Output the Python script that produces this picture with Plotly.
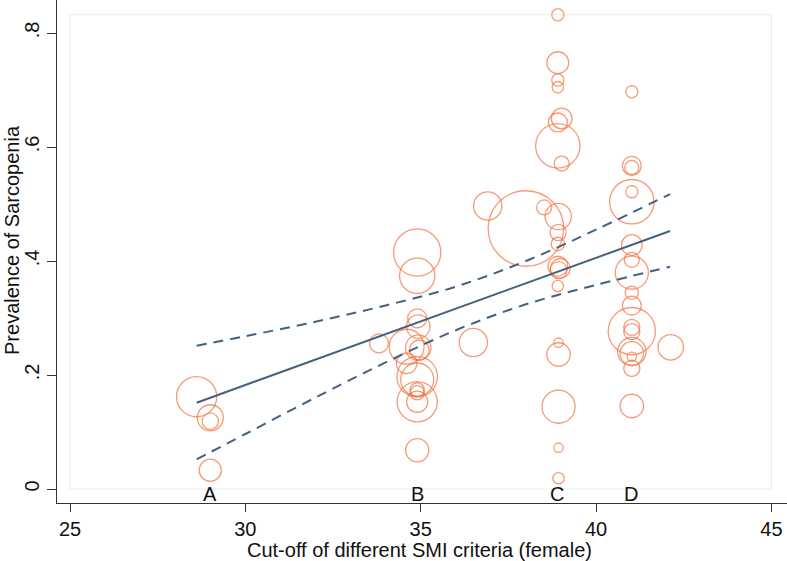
import plotly.graph_objects as go

# ---- data ----
group_labels = ["A", "B", "C", "D"]
group_x = [29.0, 34.9, 38.9, 41.0]

study_x = [28.61, 29.0, 29.0, 29.0,
           34.9, 34.9, 34.9, 34.93, 33.81, 34.6, 34.93, 34.96, 34.6, 36.5,
           34.9, 34.9, 34.9, 34.9, 34.9, 34.9, 34.9,
           38.0, 36.91, 38.52, 38.92, 38.92, 38.91, 38.91, 38.98, 38.93, 38.91,
           38.91, 38.91, 38.91, 38.91, 39.02, 38.91, 38.91, 39.02,
           38.93, 38.93, 38.93, 38.93, 38.93,
           41.02, 41.02, 41.02, 41.02, 41.02, 41.02, 41.02, 41.02, 41.02, 41.02,
           41.02, 41.02, 41.02, 41.02, 41.02, 41.02, 41.02, 41.02, 42.13]
prevalence = [0.162, 0.125, 0.119, 0.033,
              0.415, 0.374, 0.2995, 0.285, 0.2556, 0.2497, 0.248, 0.244, 0.2205, 0.257,
              0.197, 0.192, 0.174, 0.169, 0.153, 0.153, 0.068,
              0.457, 0.4965, 0.494, 0.478, 0.45, 0.43, 0.391, 0.387, 0.384, 0.356,
              0.832, 0.748, 0.7175, 0.705, 0.650, 0.643, 0.602, 0.571,
              0.2567, 0.236, 0.1444, 0.0725, 0.0188,
              0.697, 0.567, 0.564, 0.5216, 0.504, 0.428, 0.402, 0.3795, 0.3444, 0.3216,
              0.277, 0.2836, 0.276, 0.241, 0.238, 0.232, 0.2117, 0.1456, 0.2486]
weights = [2016, 846, 336, 608,
           2789, 1563, 449, 689, 449, 1513, 810, 490, 533, 1000,
           2045, 1369, 250, 250, 2016, 563, 672,
           7129, 1000, 281, 865, 325, 221, 490, 490, 360, 160,
           185, 593, 185, 160, 533, 449, 2465, 281,
           109, 689, 1369, 109, 160,
           185, 449, 250, 185, 2465, 533, 281, 1369, 221, 449,
           2789, 325, 325, 1000, 689, 109, 325, 689, 810]

fit_x = [28.61, 42.11]
fit_y = [0.1514, 0.4526]

ci_x = [28.61, 30.0, 32.0, 34.0, 36.0, 38.0, 40.0, 42.11]
ci_upper = [0.2514, 0.268, 0.2935, 0.322, 0.355, 0.400, 0.455, 0.5175]
ci_lower = [0.052, 0.0965, 0.1605, 0.222, 0.2785, 0.324, 0.358, 0.390]

x_ticks = [25, 30, 35, 40, 45]
y_ticks = [0, 0.2, 0.4, 0.6, 0.8]
y_ticktext = ["0", ".2", ".4", ".6", ".8"]

x_title = "Cut-off of different SMI criteria (female)"
y_title = "Prevalence of Sarcopenia"

# ---- styles ----
ORANGE = "#F2703F"
NAVY = "#44627F"
FONT = "Liberation Sans, Arial, sans-serif"
FS = 20
TXT = "#111"

fig = go.Figure()

fig.add_trace(go.Scatter(
    x=study_x, y=prevalence, mode="markers",
    marker=dict(symbol="circle-open", size=weights, sizemode="area", sizeref=2.5,
                color=ORANGE, line=dict(color=ORANGE, width=1.3)),
    showlegend=False, hoverinfo="x+y"))

fig.add_trace(go.Scatter(x=ci_x, y=ci_upper, mode="lines", line_shape="spline",
                         line=dict(color=NAVY, width=2, dash="10px,7px"), showlegend=False))
fig.add_trace(go.Scatter(x=ci_x, y=ci_lower, mode="lines", line_shape="spline",
                         line=dict(color=NAVY, width=2, dash="10px,7px"), showlegend=False))
fig.add_trace(go.Scatter(x=fit_x, y=fit_y, mode="lines",
                         line=dict(color=NAVY, width=2), showlegend=False))

for lab, gx in zip(group_labels, group_x):
    fig.add_annotation(x=gx, y=-0.008, text=lab, showarrow=False, xanchor="center",
                       yanchor="middle", font=dict(family=FONT, size=FS, color=TXT))

# axis titles
fig.add_annotation(xref="paper", yref="paper", x=0.496, y=0, yshift=-47,
                   xanchor="center", yanchor="middle", text=x_title, showarrow=False,
                   font=dict(family=FONT, size=FS, color=TXT))
fig.add_annotation(xref="paper", yref="paper", x=0, xshift=-45, y=0.5229,
                   xanchor="center", yanchor="middle", text=y_title, textangle=-90,
                   showarrow=False, font=dict(family=FONT, size=FS, color=TXT))

# faint plot-region outline
fig.add_shape(type="rect", xref="x", yref="y", x0=x_ticks[0], x1=x_ticks[-1], y0=0, y1=0.832,
              line=dict(color="#E6EEF0", width=1), layer="below")

fig.update_layout(
    width=787, height=561,
    margin=dict(l=57, r=0, t=0, b=58, autoexpand=False),
    paper_bgcolor="white", plot_bgcolor="white",
    font=dict(family=FONT, size=FS, color=TXT),
    xaxis=dict(range=[24.629, 45.445], tickvals=x_ticks, ticks="outside", ticklen=8,
               tickcolor="#333", tickwidth=1.2, showline=True, linecolor="#333", linewidth=1.3,
               showgrid=False, zeroline=False, automargin=False,
               tickfont=dict(family=FONT, size=FS, color=TXT)),
    yaxis=dict(range=[-0.02456, 0.8579], tickvals=y_ticks, ticktext=y_ticktext,
               tickangle=-90, ticks="outside", ticklen=9,
               tickcolor="#333", tickwidth=1.2, showline=True, linecolor="#333", linewidth=1.3,
               showgrid=False, zeroline=False, automargin=False,
               tickfont=dict(family=FONT, size=FS, color=TXT)),
)

fig.write_html("out.html", config={"displayModeBar": False},
               post_script="document.body.style.margin='0';document.body.style.overflow='hidden';")
